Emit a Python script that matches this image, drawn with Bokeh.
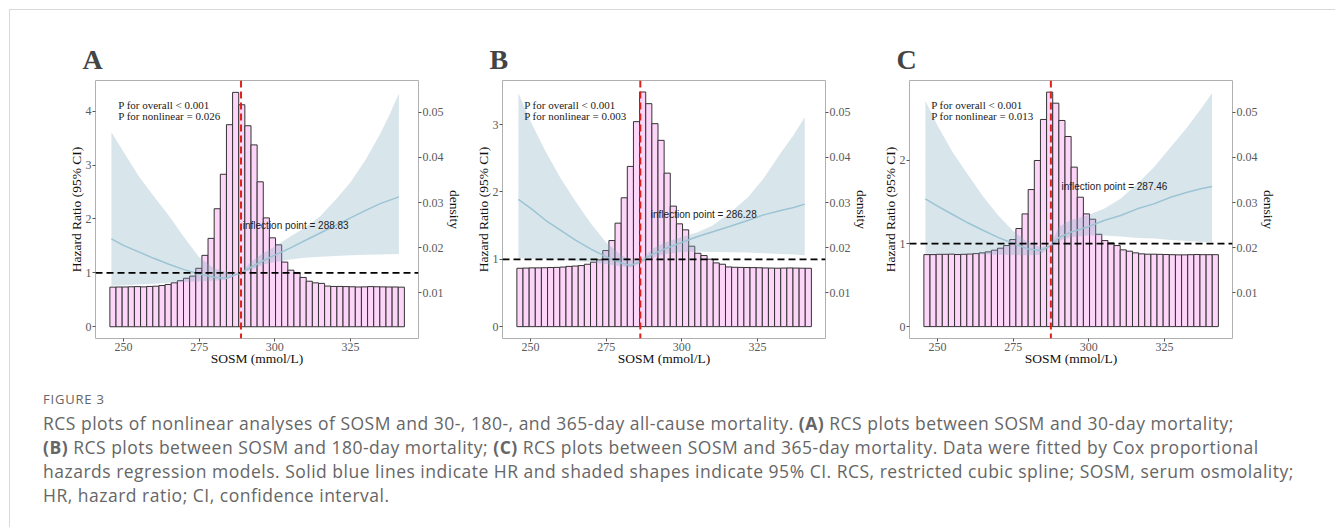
from bokeh.plotting import figure
from bokeh.models import Range1d, LinearAxis, FixedTicker, Span, Div, Spacer
from bokeh.layouts import row, column
from bokeh.embed import file_html
from bokeh.resources import INLINE
from bokeh.core.properties import value

# ---------------- data ----------------
x_ticks = [250, 275, 300, 325]
density_ticks = [0.01, 0.02, 0.03, 0.04, 0.05]
bin_start = 245.5
bin_width = 2.027

bars_A = [0.735, 0.738, 0.738, 0.742, 0.745, 0.74, 0.748, 0.752, 0.765, 0.785, 0.815, 0.855,
          0.9, 0.94, 1.085, 1.325, 1.64, 2.19, 2.83, 3.75, 4.35, 4.12, 3.73, 3.375,
          2.69, 2.02, 1.65, 1.52, 1.2, 1.05, 0.995, 0.915, 0.845, 0.815, 0.805, 0.755,
          0.748, 0.748, 0.745, 0.742, 0.738, 0.74, 0.745, 0.742, 0.74, 0.738, 0.738, 0.735]
bars_B = [0.867, 0.87, 0.873, 0.873, 0.875, 0.878, 0.88, 0.885, 0.895, 0.9, 0.907, 0.927,
          0.957, 0.992, 1.131, 1.279, 1.537, 1.914, 2.38, 3.045, 3.485, 3.312, 3.015, 2.767,
          2.28, 1.79, 1.527, 1.438, 1.195, 1.09, 1.056, 1.002, 0.947, 0.927, 0.887, 0.882,
          0.88, 0.878, 0.877, 0.875, 0.872, 0.87, 0.868, 0.87, 0.872, 0.87, 0.868, 0.867]
bars_C = [0.867, 0.867, 0.871, 0.871, 0.873, 0.868, 0.871, 0.874, 0.879, 0.888, 0.9, 0.92,
          0.944, 0.976, 1.048, 1.181, 1.357, 1.65, 2.0, 2.494, 2.823, 2.69, 2.482, 2.289,
          1.92, 1.558, 1.357, 1.293, 1.112, 1.036, 1.008, 0.976, 0.924, 0.908, 0.888, 0.876,
          0.872, 0.872, 0.87, 0.868, 0.866, 0.864, 0.864, 0.866, 0.868, 0.866, 0.866, 0.866]

sosm_A = [246, 250, 255, 260, 265, 270, 275, 280, 284, 288.83, 292, 296, 300, 305, 310, 315, 320, 325, 330, 335, 338, 341]
hr_A = [1.63, 1.51, 1.39, 1.27, 1.16, 1.06, 0.98, 0.92, 0.9, 1.0, 1.1, 1.22, 1.33, 1.46, 1.6, 1.74, 1.88, 2.02, 2.16, 2.29, 2.35, 2.41]
up_A = [3.61, 3.25, 2.8, 2.42, 2.06, 1.66, 1.29, 1.08, 1.02, 1.0, 1.2, 1.36, 1.49, 1.67, 1.84, 2.05, 2.35, 2.68, 3.1, 3.6, 3.95, 4.33]
lo_A = [0.76, 0.77, 0.785, 0.8, 0.815, 0.83, 0.845, 0.855, 0.87, 1.0, 1.05, 1.15, 1.2, 1.25, 1.28, 1.3, 1.315, 1.325, 1.335, 1.34, 1.345, 1.35]

sosm_B = [246, 250, 255, 260, 265, 270, 275, 280, 283, 286.28, 290, 294.4, 300, 305, 310, 316, 322, 327, 333, 337, 340.6]
hr_B = [1.889, 1.76, 1.58, 1.43, 1.28, 1.15, 1.04, 0.945, 0.91, 0.96, 1.07, 1.156, 1.25, 1.335, 1.405, 1.49, 1.58, 1.66, 1.73, 1.77, 1.82]
up_B = [3.47, 3.05, 2.6, 2.2, 1.85, 1.53, 1.25, 1.06, 1.0, 0.975, 1.15, 1.25, 1.33, 1.4, 1.5, 1.69, 1.93, 2.2, 2.6, 2.85, 3.11]
lo_B = [1.02, 1.01, 1.0, 0.99, 0.975, 0.955, 0.93, 0.895, 0.88, 0.94, 1.02, 1.08, 1.11, 1.115, 1.11, 1.105, 1.1, 1.09, 1.08, 1.07, 1.06]

sosm_C = [246, 250, 255, 260, 265, 270, 275, 280, 284, 287.46, 290, 293.9, 299.4, 305, 310.5, 316, 321.5, 327, 332.5, 337, 340.7]
hr_C = [1.538, 1.45, 1.35, 1.25, 1.16, 1.075, 1.0, 0.935, 0.916, 0.975, 1.07, 1.136, 1.197, 1.277, 1.337, 1.418, 1.478, 1.558, 1.618, 1.66, 1.687]
up_C = [2.72, 2.42, 2.1, 1.83, 1.57, 1.34, 1.15, 1.01, 0.96, 0.985, 1.2, 1.28, 1.337, 1.418, 1.54, 1.72, 1.92, 2.16, 2.4, 2.62, 2.81]
lo_C = [0.876, 0.876, 0.875, 0.873, 0.87, 0.866, 0.862, 0.86, 0.865, 0.965, 1.03, 1.076, 1.096, 1.096, 1.085, 1.068, 1.06, 1.044, 1.03, 1.022, 1.016]

panels = [
    dict(label="A", bars=bars_A, x=sosm_A, hr=hr_A, up=up_A, lo=lo_A, infl=288.83,
         yr=(-0.218, 4.57), yticks=[0, 1, 2, 3, 4],
         p1="P for overall < 0.001", p2="P for nonlinear = 0.026", pxy=(248.25, 4.124, 3.914),
         itxt="inflection point = 288.83", ixy=(289.4, 1.876)),
    dict(label="B", bars=bars_B, x=sosm_B, hr=hr_B, up=up_B, lo=lo_B, infl=286.28,
         yr=(-0.176, 3.656), yticks=[0, 1, 2, 3],
         p1="P for overall < 0.001", p2="P for nonlinear = 0.003", pxy=(247.9, 3.298, 3.134),
         itxt="inflection point = 286.28", ixy=(289.74, 1.666)),
    dict(label="C", bars=bars_C, x=sosm_C, hr=hr_C, up=up_C, lo=lo_C, infl=287.46,
         yr=(-0.143, 2.963), yticks=[0, 1, 2],
         p1="P for overall < 0.001", p2="P for nonlinear = 0.013", pxy=(247.9, 2.671, 2.539),
         itxt="inflection point = 287.46", ixy=(290.96, 1.69)),
]

SERIF = "Liberation Serif"
SANS = "Liberation Sans"
TICK_COL = "#5a5a5a"


def style_axis(ax, label_standoff):
    ax.axis_line_color = None
    ax.major_tick_line_color = "#555555"
    ax.major_tick_out = 3
    ax.major_tick_in = 0
    ax.minor_tick_line_color = None
    ax.major_label_text_font = SERIF
    ax.major_label_text_font_size = "12px"
    ax.major_label_text_color = TICK_COL
    ax.major_label_standoff = 1
    ax.major_label_text_line_height = 0.9
    ax.axis_label_text_font = SERIF
    ax.axis_label_text_font_size = "13.5px"
    ax.axis_label_text_font_style = "normal"
    ax.axis_label_text_color = "#111111"
    ax.axis_label_standoff = label_standoff
    ax.axis_label_text_line_height = 1.0


def make_panel(d):
    p = figure(width=407, height=361, output_backend="svg", toolbar_location=None,
               x_range=Range1d(240.75, 347.46), y_range=Range1d(*d["yr"]),
               min_border_left=36, min_border_right=48, min_border_top=70, min_border_bottom=33)
    p.extra_y_ranges = {"dens": Range1d(-0.00012, 0.05702)}
    p.xgrid.visible = False
    p.ygrid.visible = False
    p.outline_line_color = "#b0b0b0"
    p.outline_line_width = 1
    p.background_fill_color = "white"
    p.border_fill_color = "white"

    p.xaxis.ticker = FixedTicker(ticks=x_ticks)
    p.yaxis.ticker = FixedTicker(ticks=d["yticks"])
    p.xaxis.axis_label = "SOSM (mmol/L)"
    p.yaxis.axis_label = "Hazard Ratio (95% CI)"
    style_axis(p.xaxis[0], -3)
    style_axis(p.yaxis[0], -1)

    rax = LinearAxis(y_range_name="dens", ticker=FixedTicker(ticks=density_ticks), axis_label="density")
    style_axis(rax, 0)
    p.add_layout(rax, "right")

    p.title.text = d["label"]
    p.title.text_font = SERIF
    p.title.text_font_style = "bold"
    p.title.text_font_size = "28px"
    p.title.align = "left"
    p.title.offset = -13
    p.title.standoff = 12

    n = len(d["bars"])
    lefts = [bin_start + i * bin_width for i in range(n)]
    rights = [bin_start + (i + 1) * bin_width for i in range(n)]
    p.quad(left=lefts, right=rights, bottom=0, top=d["bars"],
           fill_color="#FCD5F8", line_color="#333333", line_width=1)

    p.varea(x=d["x"], y1=d["lo"], y2=d["up"], fill_color="#7fa9bd", fill_alpha=0.3)
    p.line(x=d["x"], y=d["hr"], line_color="#9cc4d4", line_width=1.5)

    p.add_layout(Span(location=1, dimension="width", line_color="black",
                      line_dash="7 4", line_width=1.8))
    p.add_layout(Span(location=d["infl"], dimension="height", line_color="#E0201B",
                      line_dash="7 4", line_width=2))

    px, py1, py2 = d["pxy"]
    p.text(x=[px, px], y=[py1, py2], text=[d["p1"], d["p2"]],
           text_font=value(SERIF), text_font_size="11px", text_color="#222222",
           text_baseline="middle", text_align="left")
    ix, iy = d["ixy"]
    p.text(x=[ix], y=[iy], text=[d["itxt"]],
           text_font=value(SANS), text_font_size="10px", text_color="#222222",
           text_baseline="middle", text_align="left")
    return p


figs = [make_panel(d) for d in panels]

caption_html = (
    '<div style="font-family:\'Open Sans\', sans-serif; color:#666666; padding-left:28px; padding-top:11px;">'
    '<div style="font-size:13px; line-height:24px; letter-spacing:0.8px;">FIGURE 3</div>'
    '<div style="font-size:17.5px; line-height:24px; letter-spacing:0.5px; white-space:nowrap;">'
    'RCS plots of nonlinear analyses of SOSM and 30-, 180-, and 365-day all-cause mortality. '
    '<b>(A)</b> RCS plots between SOSM and 30-day mortality;<br>'
    '<b>(B)</b> RCS plots between SOSM and 180-day mortality; <b>(C)</b> RCS plots between SOSM and '
    '365-day mortality. Data were fitted by Cox proportional<br>'
    'hazards regression models. Solid blue lines indicate HR and shaded shapes indicate 95% CI. '
    'RCS, restricted cubic spline; SOSM, serum osmolality;<br>'
    'HR, hazard ratio; CI, confidence interval.'
    '</div></div>'
)
caption = Div(text=caption_html, width=1321, height=155)

layout = column(row(Spacer(width=49, height=361), *figs), caption,
                margin=(9, 0, 0, 9),
                styles={"border-top": "1px solid #d9d9d9",
                        "border-left": "1px solid #d9d9d9",
                        "border-right": "1px solid #d9d9d9"})

open("out.html", "w").write(file_html(layout, INLINE))
